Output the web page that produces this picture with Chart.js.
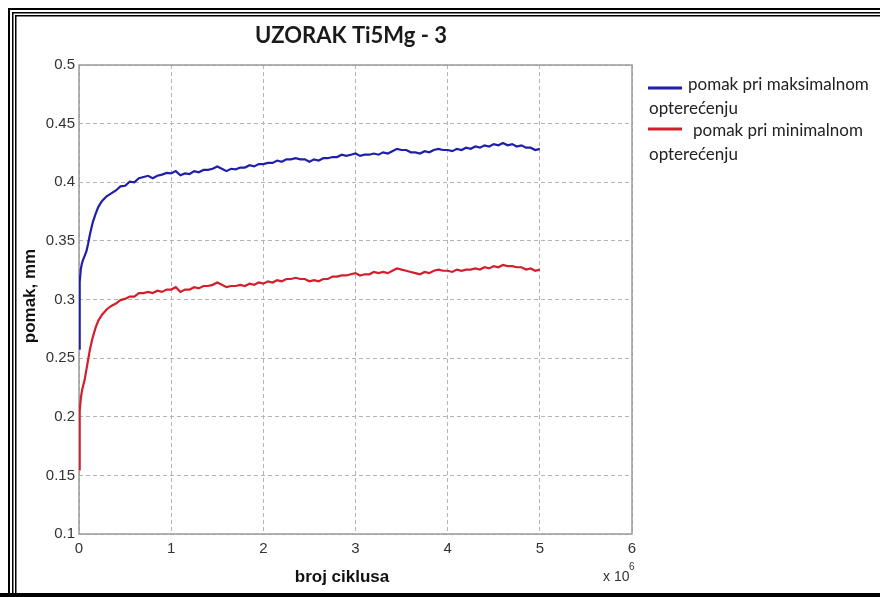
<!DOCTYPE html>
<html>
<head>
<meta charset="utf-8">
<script src="https://cdn.jsdelivr.net/npm/chart.js@4"></script>
<style>
  html, body { margin: 0; padding: 0; background: #fff; }
  #wrap { width: 880px; height: 597px; position: relative; }
</style>
</head>
<body>
<div id="wrap"><canvas id="c" width="880" height="597"></canvas></div>
<script>
const chartTitle = "UZORAK Ti5Mg - 3";
const xTitle = "broj ciklusa";
const yTitle = "pomak, mm";
const xMultiplier = "x 10";
const xExponent = "6";
const seriesNames = ["pomak pri maksimalnom", "pomak pri minimalnom"];
const legendSecondLine = "opterećenju";

// number of cycles, in units of 10^6
const cycles = [0,0.005,0.01,0.02,0.03,0.04,0.06,0.08,0.1,0.12,0.15,0.18,0.21,0.25,
  0.3,0.35,0.4,0.45,0.5,0.55,0.6,0.65,0.7,0.75,0.8,0.85,0.9,0.95,
  1.0,1.05,1.1,1.15,1.2,1.25,1.3,1.35,1.4,1.45,1.5,1.55,1.6,1.65,1.7,1.75,1.8,1.85,1.9,1.95,
  2.0,2.05,2.1,2.15,2.2,2.25,2.3,2.35,2.4,2.45,2.5,2.55,2.6,2.65,2.7,2.75,2.8,2.85,2.9,2.95,
  3.0,3.05,3.1,3.15,3.2,3.25,3.3,3.35,3.4,3.45,3.5,3.55,3.6,3.65,3.7,3.75,3.8,3.85,3.9,3.95,
  4.0,4.05,4.1,4.15,4.2,4.25,4.3,4.35,4.4,4.45,4.5,4.55,4.6,4.65,4.7,4.75,4.8,4.85,4.9,4.95,5.0];

// displacement at maximum load (mm)
const maxLoad = [0.258,0.29,0.315,0.326,0.33,0.333,0.337,0.341,0.348,0.356,0.366,0.373,0.379,0.384,
  0.388,0.3905,0.393,0.3965,0.397,0.4005,0.4,0.4035,0.4045,0.4055,0.4035,0.4055,0.4065,0.408,
  0.4075,0.4095,0.406,0.4075,0.407,0.4095,0.4085,0.4105,0.4105,0.4115,0.4135,0.4115,0.4095,0.4115,0.411,0.4125,0.4125,0.4145,0.4135,0.4155,
  0.4155,0.4165,0.4165,0.4185,0.4175,0.4195,0.4195,0.4205,0.4195,0.4195,0.4175,0.4195,0.4185,0.4205,0.4205,0.4215,0.4215,0.4235,0.4225,0.4235,
  0.4245,0.4225,0.4235,0.4235,0.4245,0.4235,0.4255,0.4245,0.4265,0.4285,0.4275,0.4275,0.4255,0.4255,0.4245,0.4265,0.4255,0.4275,0.4285,0.4275,
  0.4275,0.4265,0.4285,0.4275,0.4295,0.4285,0.4305,0.4295,0.4315,0.4305,0.4325,0.4315,0.4335,0.4315,0.4325,0.4305,0.4315,0.4295,0.4295,0.4275,0.4285];

// displacement at minimum load (mm)
const minLoad = [0.155,0.19,0.205,0.216,0.221,0.225,0.231,0.24,0.249,0.258,0.268,0.276,0.282,0.287,
  0.2915,0.2945,0.2965,0.2995,0.3005,0.3025,0.3025,0.3055,0.3055,0.3065,0.3055,0.3075,0.3065,0.3085,
  0.3085,0.3105,0.3065,0.3085,0.3085,0.3105,0.3095,0.3115,0.3115,0.3125,0.3145,0.3125,0.3105,0.3115,0.3115,0.3125,0.3115,0.3135,0.3125,0.3145,
  0.3135,0.3155,0.3145,0.3165,0.3155,0.3175,0.3175,0.3185,0.3175,0.3175,0.3155,0.3165,0.3155,0.3175,0.3175,0.3195,0.3195,0.3205,0.3205,0.3215,
  0.3225,0.3205,0.3215,0.3215,0.3235,0.3225,0.3235,0.3225,0.3245,0.3265,0.3255,0.3245,0.3235,0.3225,0.3215,0.3235,0.3225,0.3245,0.3255,0.3245,
  0.3245,0.3235,0.3255,0.3245,0.3255,0.3255,0.3265,0.3255,0.3275,0.3265,0.3285,0.3275,0.3295,0.3285,0.3285,0.3275,0.3275,0.3255,0.3265,0.3245,0.3255];

const xTicks = [0,1,2,3,4,5,6];
const yTicks = [0.1,0.15,0.2,0.25,0.3,0.35,0.4,0.45,0.5];

const seriesColors = ["#1f1faa", "#d21f2b"];

const toPoints = (ys) => cycles.map((x, i) => ({x: x, y: ys[i]}));

const decor = {
  id: 'decor',
  beforeDatasetsDraw(chart) {
    const {ctx, chartArea: a} = chart;
    ctx.save();
    ctx.strokeStyle = '#9a9a9a';
    ctx.lineWidth = 1.5;
    ctx.strokeRect(a.left, a.top, a.right - a.left, a.bottom - a.top);
    ctx.restore();
  },
  afterDraw(chart) {
    const {ctx} = chart;
    ctx.save();
    // page frame
    ctx.fillStyle = '#000';
    const W = chart.width, H = chart.height;
    ctx.fillRect(8, 8, W - 8, 2);
    ctx.fillRect(12, 12, W - 12, 1.5);
    ctx.fillRect(15, 15, W - 15, 1.5);
    ctx.fillRect(8, 8, 2, H - 8);
    ctx.fillRect(12, 12, 1.5, H - 12);
    ctx.fillRect(15, 15, 1.5, H - 15);
    ctx.fillRect(0, 593, W, 4);

    // title
    ctx.fillStyle = '#1a1a1a';
    ctx.font = 'bold 22px Lato';
    ctx.textAlign = 'center';
    ctx.textBaseline = 'middle';
    ctx.fillText(chartTitle, 351, 36);

    // axis titles
    ctx.fillStyle = '#111';
    ctx.font = 'bold 17px "Liberation Sans"';
    ctx.fillText(xTitle, 342, 577);
    ctx.save();
    ctx.translate(30, 296);
    ctx.rotate(-Math.PI / 2);
    ctx.fillText(yTitle, 0, 0);
    ctx.restore();

    // exponent
    ctx.fillStyle = '#333';
    ctx.font = '14px "Liberation Sans"';
    ctx.textAlign = 'left';
    ctx.fillText(xMultiplier, 603, 577);
    ctx.font = '10px "Liberation Sans"';
    ctx.fillText(xExponent, 629, 567);

    // legend
    const legendRows = [
      {name: seriesNames[0], color: seriesColors[0], lineY: 88, textX: 688, textY: 85, secondY: 109},
      {name: seriesNames[1], color: seriesColors[1], lineY: 129, textX: 693, textY: 131, secondY: 155}
    ];
    legendRows.forEach(r => {
      ctx.strokeStyle = r.color;
      ctx.lineWidth = 3;
      ctx.beginPath();
      ctx.moveTo(648, r.lineY);
      ctx.lineTo(682, r.lineY);
      ctx.stroke();
      ctx.fillStyle = '#222';
      ctx.font = '17px Lato';
      ctx.textAlign = 'left';
      ctx.textBaseline = 'middle';
      ctx.fillText(r.name, r.textX, r.textY);
      ctx.fillText(legendSecondLine, 649, r.secondY);
    });
    ctx.restore();
  }
};

new Chart(document.getElementById('c'), {
  type: 'line',
  data: {
    datasets: [
      {label: seriesNames[0], data: toPoints(maxLoad), borderColor: seriesColors[0], borderWidth: 2.2, pointRadius: 0, tension: 0, fill: false},
      {label: seriesNames[1], data: toPoints(minLoad), borderColor: seriesColors[1], borderWidth: 2.2, pointRadius: 0, tension: 0, fill: false}
    ]
  },
  options: {
    responsive: false,
    animation: false,
    devicePixelRatio: 1,
    layout: {padding: {left: 0, top: 65, right: 248, bottom: 0}},
    plugins: {legend: {display: false}, title: {display: false}, tooltip: {enabled: false}},
    scales: {
      x: {
        type: 'linear', min: 0, max: 6,
        afterFit(s) { s.height = 63; },
        afterBuildTicks(s) { s.ticks = xTicks.map(v => ({value: v})); },
        ticks: {padding: 6, color: '#333', font: {family: '"Liberation Sans", Arial', size: 15}, maxRotation: 0,
          callback: v => String(v)},
        grid: {color: '#b5b5b5', lineWidth: 1, drawTicks: false},
        border: {display: false, dash: [4, 3]}
      },
      y: {
        type: 'linear', min: 0.1, max: 0.5,
        afterFit(s) { s.width = 79; },
        afterBuildTicks(s) { s.ticks = yTicks.map(v => ({value: v})); },
        ticks: {padding: 4, color: '#333', font: {family: '"Liberation Sans", Arial', size: 15},
          callback: v => String(Number(v.toFixed(2)))},
        grid: {color: '#b5b5b5', lineWidth: 1, drawTicks: false},
        border: {display: false, dash: [4, 3]}
      }
    }
  },
  plugins: [decor]
});
</script>
</body>
</html>
